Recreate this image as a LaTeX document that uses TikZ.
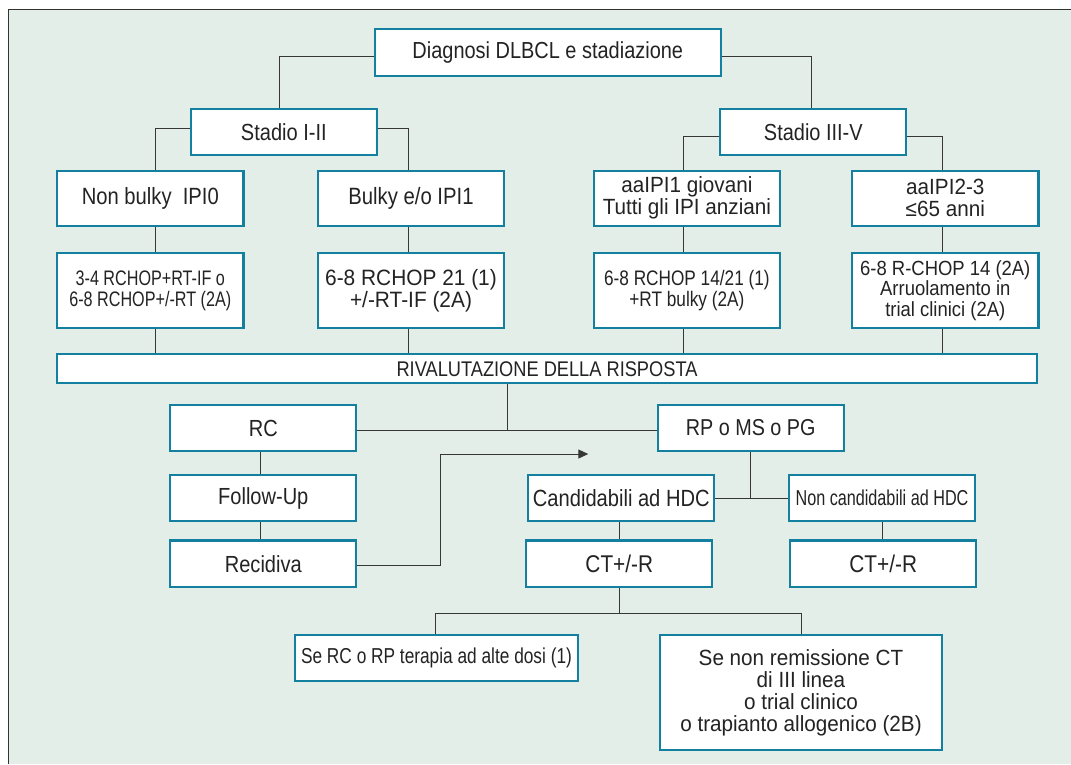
\documentclass[tikz,border=0pt]{standalone}
\usepackage{fontspec}
\setmainfont[FakeStretch=0.86]{Liberation Sans}
\newfontfamily\cnda[FakeStretch=0.75]{Liberation Sans}
\newfontfamily\cndb[FakeStretch=0.80]{Liberation Sans}
\newfontfamily\fa[FakeStretch=0.77]{Liberation Sans}
\newfontfamily\fb[FakeStretch=0.82]{Liberation Sans}
\newfontfamily\fc[FakeStretch=0.90]{Liberation Sans}
\newfontfamily\fd[FakeStretch=0.94]{Liberation Sans}
\usetikzlibrary{arrows.meta}
\definecolor{bg}{RGB}{228,238,233}
\definecolor{tl}{RGB}{20,128,160}
\definecolor{ln}{RGB}{55,55,55}
\definecolor{txc}{RGB}{35,35,35}
\newcommand{\fsz}[1]{\fontsize{#1}{#1}\selectfont}
\tikzset{
  box/.style={draw=tl, line width=2.3pt, fill=white, inner sep=0pt, align=center, text=txc},
  bw/.style={minimum width=186pt, minimum height=46pt},
  bt/.style={minimum width=186.5pt, minimum height=54.7pt},
  btx/.style={minimum width=186.5pt, minimum height=75.6pt},
  conn/.style={draw=ln, line width=1pt},
}
\begin{document}
\begin{tikzpicture}[x=1pt,y=-1pt]
\useasboundingbox (0,0) rectangle (1071,764);
\fill[white] (0,0) rectangle (1071,764);
\fill[bg] (8.7,9.3) rectangle (1071,764);
\draw[black!80, line width=1.3pt] (8.7,764) -- (8.7,9.3) -- (1071,9.3);

% level 0
\node[box, minimum width=346pt, minimum height=47pt, font=\fsz{23.2}] (diag) at (547.8,52.3) {Diagnosi DLBCL e stadiazione};
% level 1
\node[box, bw, font=\fsz{23.3}] (s12) at (283.8,132) {Stadio I-II};
\node[box, bw, font=\fsz{23.2}] (s35) at (813.3,132) {Stadio III-V};
% level 2
\node[box, bt, font=\fsz{23.5}] (nb) at (150.3,198.3) {Non bulky\ \ IPI0};
\node[box, bt, font=\fsz{23.6}] (bk) at (411,198.3) {Bulky e/o IPI1};
\node[box, bt, font={\fd\fsz{22}}] (aa1) at (686.9,198.3) {aaIPI1 giovani\\Tutti gli IPI anziani};
\node[box, bt, font={\fd\fsz{22}}] (aa2) at (945.3,198.3) {aaIPI2-3\\≤65 anni};
% level 3
\node[box, btx, font={\fa\fsz{21}}] (nbt) at (150.3,290.5) {3-4 RCHOP+RT-IF o\\6-8 RCHOP+/-RT (2A)};
\node[box, btx, font={\fd\fsz{22.2}}] (bkt) at (411,290.5) {6-8 RCHOP 21 (1)\\+/-RT-IF (2A)};
\node[box, btx, font={\fb\fsz{21}}] (aa1t) at (686.9,290.5) {6-8 RCHOP 14/21 (1)\\+RT bulky (2A)};
\node[box, btx, font={\fc\fsz{20.5}}] (aa2t) at (945.3,290.5) {6-8 R-CHOP 14 (2A)\\Arruolamento in\\trial clinici (2A)};
% bar
\node[box, minimum width=980pt, minimum height=29pt, font=\fsz{21.2}] (bar) at (547,368.8) {RIVALUTAZIONE DELLA RISPOSTA};
% response
\node[box, bw, font=\fsz{23.3}] (rc) at (263.3,428) {RC};
\node[box, bw, font=\fsz{23.3}] (fu) at (263.3,498) {Follow-Up};
\node[box, bw, minimum height=46.7pt, font=\fsz{23.3}] (rec) at (263.3,563.7) {Recidiva};
\node[box, bw, font=\fsz{23}] (rp) at (750.7,428) {RP o MS o PG};
\node[box, bw, font=\fsz{23.4}] (cand) at (621.3,498) {Candidabili ad HDC};
\node[box, bw, font={\cnda\fsz{21.6}}] (ncand) at (882,498) {Non candidabili ad HDC};
\node[box, bw, minimum height=46.7pt, font=\fsz{24.2}] (ct1) at (619.3,563.7) {CT+/-R};
\node[box, bw, minimum height=46.7pt, font=\fsz{24.2}] (ct2) at (883.2,563.7) {CT+/-R};
\node[box, minimum width=283pt, minimum height=46pt, font={\cndb\fsz{21.6}}] (se1) at (436.5,658) {Se RC o RP terapia ad alte dosi (1)};
\node[box, minimum width=282.6pt, minimum height=114.7pt, font={\fd\fsz{22}}] (se2) at (801,692.3) {Se non remissione CT\\di III linea\\o trial clinico\\o trapianto allogenico (2B)};

% connectors top
\draw[conn] ([yshift=-3.7pt]diag.west) -| ([xshift=-4.8pt]s12.north);
\draw[conn] ([yshift=-3.7pt]diag.east) -| ([xshift=-2.1pt]s35.north);
\draw[conn] ([yshift=3.7pt]s12.west) -| ([xshift=4.7pt]nb.north);
\draw[conn] ([yshift=3.7pt]s12.east) -| ([xshift=-3pt]bk.north);
\draw[conn] ([yshift=-4.7pt]s35.west) -| ([xshift=-3.3pt]aa1.north);
\draw[conn] ([yshift=-4.7pt]s35.east) -| ([xshift=-2.9pt]aa2.north);
% verticals to treatments and bar
\draw[conn] ([xshift=4.7pt]nb.south) -- ([xshift=4.7pt]nbt.north);
\draw[conn] ([xshift=-3pt]bk.south) -- ([xshift=-3pt]bkt.north);
\draw[conn] ([xshift=-3.3pt]aa1.south) -- ([xshift=-3.3pt]aa1t.north);
\draw[conn] ([xshift=-2.9pt]aa2.south) -- ([xshift=-2.9pt]aa2t.north);
\coordinate (b1) at ([xshift=4.7pt]nbt.south);
\coordinate (b2) at ([xshift=-3pt]bkt.south);
\coordinate (b3) at ([xshift=-3.3pt]aa1t.south);
\coordinate (b4) at ([xshift=-2.9pt]aa2t.south);
\draw[conn] (b1) -- (b1 |- bar.north);
\draw[conn] (b2) -- (b2 |- bar.north);
\draw[conn] (b3) -- (b3 |- bar.north);
\draw[conn] (b4) -- (b4 |- bar.north);
% bar to responses
\coordinate (mid) at ([yshift=-2.7pt]rc.east);
\coordinate (hub) at ([xshift=-39.7pt]bar.south);
\draw[conn] ([yshift=-2.7pt]rc.east) -- ([yshift=-2.7pt]rp.west);
\draw[conn] (hub) -- (hub |- mid);
% RC chain
\draw[conn] ([xshift=-3.3pt]rc.south) -- ([xshift=-3.3pt]fu.north);
\draw[conn] ([xshift=-3.3pt]fu.south) -- ([xshift=-3.3pt]rec.north);
% recidiva arrow
\coordinate (tip) at (588.3,454);
\draw[conn, -{Triangle[length=10pt,width=9pt]}] ([yshift=-1.3pt]rec.east) -- ++(83.4,0) |- (tip);
% RP branch
\draw[conn] (rp.south) -- (rp.south |- cand.east);
\draw[conn] (cand.east) -- (ncand.west);
\draw[conn] (ct1.north) -- (ct1.north |- cand.south);
\draw[conn] ([xshift=0.7pt]ncand.south) -- ([xshift=0.7pt]ncand.south |- ct2.north);
% split
\draw[conn] (ct1.south) -- ++(0,25) coordinate (sp);
\draw[conn] ([xshift=-1.2pt]se1.north) |- (sp) -| (se2.north);
\end{tikzpicture}
\end{document}
